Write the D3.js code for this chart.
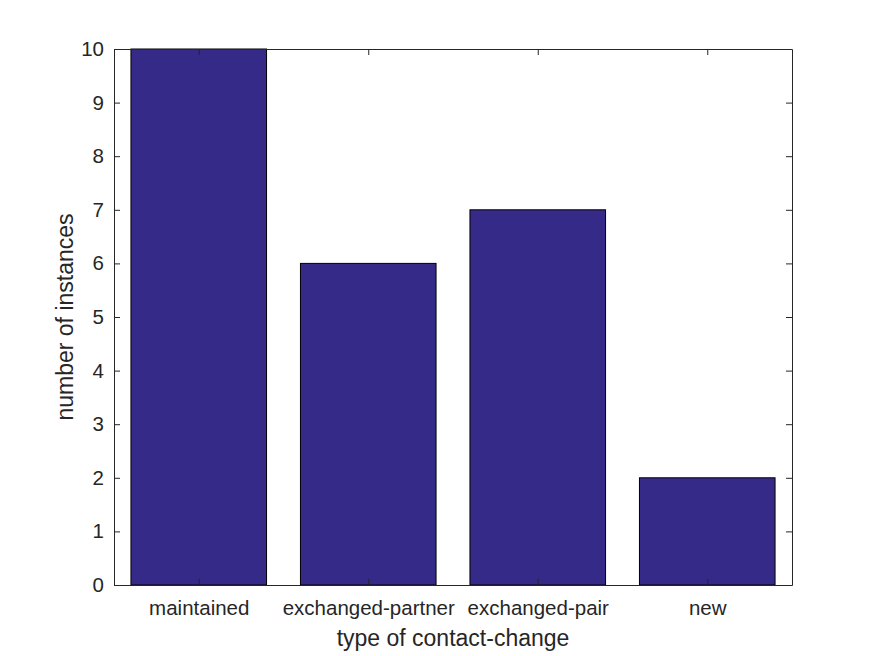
<!DOCTYPE html>
<html lang="en">
<head>
<meta charset="UTF-8">
<title>Contact change bar chart</title>
<script src="https://d3js.org/d3.v7.min.js"></script>
<style>
    body { margin: 0; background: #fff; }
    svg { display: block; font-family: "Liberation Sans", Arial, sans-serif; }
    .tick text { font-size: 20.5px; fill: #262626; }
    .axisTitle { font-size: 23px; fill: #262626; }
</style>
</head>
<body>
<svg width="875" height="656"></svg>
<script>
    // data
    let categories = ["maintained", "exchanged-partner", "exchanged-pair", "new"];
    let counts = [10, 6, 7, 2];
    let yTicks = [0, 1, 2, 3, 4, 5, 6, 7, 8, 9, 10];

    let svg = d3.select("svg");
    let m = {left: 114, right: 83, top: 49, bottom: 71};
    let W = 875, H = 656;
    let x0 = m.left, x1 = W - m.right, y0 = H - m.bottom, y1 = m.top;

    // positions 1..4 like matlab, domain 0.5..4.5
    let xScale = d3.scaleLinear().domain([0.5, 4.5]).range([x0, x1]);
    let yScale = d3.scaleLinear().domain([0, 10]).range([y0, y1]);
    let barW = 0.8;

    svg.selectAll("rect.bar").data(counts).enter().append("rect")
        .attr("class", "bar")
        .attr("x", (d, i) => xScale(i + 1 - barW / 2))
        .attr("y", d => yScale(d))
        .attr("width", xScale(barW) - xScale(0))
        .attr("height", d => yScale(0) - yScale(d))
        .attr("fill", "#352a87")
        .attr("stroke", "#000")
        .attr("stroke-width", 1);

    let tl = 6;
    // bottom axis
    svg.append("g").attr("transform", "translate(0," + y0 + ")")
        .call(d3.axisBottom(xScale).tickValues([1, 2, 3, 4]).tickFormat((d) => categories[d - 1])
            .tickSizeInner(-tl).tickSizeOuter(0).tickPadding(15));
    // top axis
    svg.append("g").attr("transform", "translate(0," + y1 + ")")
        .call(d3.axisTop(xScale).tickValues([1, 2, 3, 4]).tickFormat("").tickSizeInner(-tl).tickSizeOuter(0));
    // left axis
    svg.append("g").attr("transform", "translate(" + x0 + ",0)")
        .call(d3.axisLeft(yScale).tickValues(yTicks).tickFormat(d3.format("d"))
            .tickSizeInner(-tl).tickSizeOuter(0).tickPadding(10));
    // right axis
    svg.append("g").attr("transform", "translate(" + x1 + ",0)")
        .call(d3.axisRight(yScale).tickValues(yTicks).tickFormat("").tickSizeInner(-tl).tickSizeOuter(0));

    svg.selectAll(".domain").attr("stroke", "#262626");
    svg.selectAll(".tick line").attr("stroke", "#262626");
    svg.selectAll(".tick text").attr("font-family", null).attr("font-size", null);

    svg.append("text").attr("class", "axisTitle")
        .attr("x", (x0 + x1) / 2).attr("y", 646)
        .attr("text-anchor", "middle")
        .text("type of contact-change");

    svg.append("text").attr("class", "axisTitle")
        .attr("transform", "translate(73," + ((y0 + y1) / 2) + ") rotate(-90)")
        .attr("text-anchor", "middle")
        .text("number of instances");
</script>
</body>
</html>
